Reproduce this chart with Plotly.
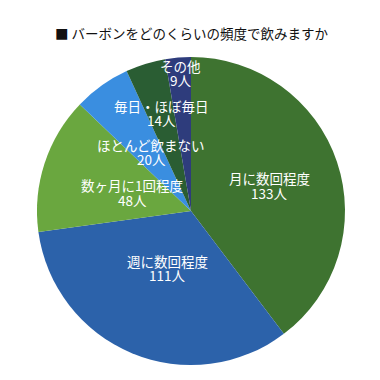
import plotly.graph_objects as go

categories = ["月に数回程度", "週に数回程度", "数ヶ月に1回程度", "ほとんど飲まない", "毎日・ほぼ毎日", "その他"]
counts = [133, 111, 48, 20, 14, 9]
colors = ["#3E7330", "#2C62AA", "#6AA73F", "#3A8EE0", "#2A5D33", "#2E3C7C"]
title_text = "■ バーボンをどのくらいの頻度で飲みますか"

W = H = 380
# label centres (pixels): x, y of category line, y of count line
label_px = [(269, 178, 193), (167, 261, 275), (132, 185, 200), (151, 145, 159), (161, 106, 120), (180, 66, 80)]

FONT = "Noto Sans CJK JP"

fig = go.Figure(go.Pie(
    labels=categories,
    values=counts,
    sort=False,
    direction="clockwise",
    rotation=0,
    marker=dict(colors=colors, line=dict(width=0)),
    textinfo="none",
    hoverinfo="label+value",
    domain=dict(x=[37 / W, 345 / W], y=[1 - 365 / H, 1 - 57 / H]),
    showlegend=False,
))

annotations = [dict(
    text=title_text, x=192 / W, y=1 - 33 / H, xref="paper", yref="paper",
    showarrow=False, font=dict(family=FONT, size=13.5, color="#111111"),
    xanchor="center", yanchor="middle")]
for cat, n, (x, y1, y2) in zip(categories, counts, label_px):
    for txt, yy in ((cat, y1), (f"{n}人", y2)):
        annotations.append(dict(text=txt, x=x / W, y=1 - yy / H,
                                xref="paper", yref="paper", showarrow=False,
                                font=dict(family=FONT, size=13.5, color="white"),
                                xanchor="center", yanchor="middle"))

fig.update_layout(
    width=W, height=H,
    margin=dict(l=0, r=0, t=0, b=0),
    paper_bgcolor="white",
    plot_bgcolor="white",
    annotations=annotations,
)

fig.write_html("out.html")
